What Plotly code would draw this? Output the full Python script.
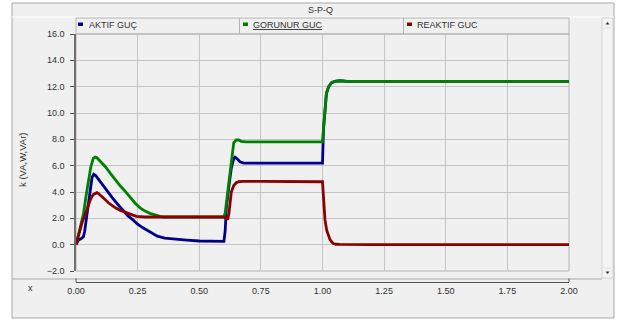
import plotly.graph_objects as go

# ---------------- data ----------------
title_text = "S-P-Q"
series_names = ["AKTIF GUÇ", "GORUNUR GUC", "REAKTIF GUC"]
series_colors = ["#00008b", "#008000", "#8b0000"]
y_title = "k (VA,W,VAr)"
x_title = "x"

p_t = [0, 0.01, 0.02, 0.03, 0.035, 0.04, 0.045, 0.05, 0.057, 0.065, 0.072, 0.08, 0.09, 0.10,
       0.11, 0.13, 0.15, 0.17, 0.19, 0.21, 0.23, 0.25, 0.27, 0.30, 0.33, 0.36, 0.40, 0.45,
       0.50, 0.55, 0.60, 0.605, 0.61, 0.62, 0.63, 0.64, 0.645, 0.655, 0.665, 0.68, 0.75,
       0.85, 1.00, 1.004, 1.01, 1.016, 1.025, 1.037, 1.05, 1.07, 1.10, 1.5, 2.0]
p_v = [0, 0.35, 0.45, 0.6, 1.0, 1.7, 2.5, 3.2, 4.4, 5.1, 5.35, 5.25, 5.0, 4.75,
       4.45, 4.0, 3.5, 3.05, 2.6, 2.2, 1.9, 1.55, 1.3, 0.95, 0.65, 0.5, 0.42, 0.35,
       0.28, 0.25, 0.25, 1.0, 2.8, 4.4, 5.8, 6.55, 6.65, 6.5, 6.3, 6.2, 6.2,
       6.2, 6.2, 8.8, 10.5, 11.5, 12.0, 12.3, 12.4, 12.45, 12.4, 12.4, 12.4]

s_t = [0, 0.01, 0.02, 0.03, 0.04, 0.05, 0.06, 0.07, 0.078, 0.085, 0.09, 0.10, 0.12, 0.14,
       0.16, 0.18, 0.20, 0.22, 0.24, 0.26, 0.28, 0.30, 0.32, 0.34, 0.36, 0.45, 0.55, 0.60,
       0.605, 0.61, 0.62, 0.63, 0.64, 0.65, 0.66, 0.67, 0.69, 0.80, 0.90, 1.00, 1.004,
       1.01, 1.016, 1.025, 1.037, 1.05, 1.07, 1.10, 1.30, 1.50, 1.75, 2.0]
s_v = [0, 0.7, 1.5, 2.3, 3.6, 4.9, 5.9, 6.55, 6.65, 6.6, 6.5, 6.3, 5.9, 5.4,
       4.9, 4.45, 4.05, 3.6, 3.15, 2.8, 2.55, 2.38, 2.25, 2.15, 2.1, 2.1, 2.1, 2.1,
       2.4, 3.2, 4.8, 6.6, 7.75, 7.95, 7.95, 7.85, 7.8, 7.8, 7.8, 7.8, 8.8,
       10.5, 11.5, 12.0, 12.3, 12.4, 12.45, 12.4, 12.4, 12.4, 12.4, 12.4]

q_t = [0, 0.008, 0.016, 0.025, 0.037, 0.05, 0.06, 0.07, 0.08, 0.085, 0.09, 0.10, 0.11,
       0.12, 0.13, 0.14, 0.16, 0.18, 0.20, 0.22, 0.245, 0.28, 0.35, 0.45, 0.55, 0.60,
       0.61, 0.615, 0.62, 0.625, 0.63, 0.64, 0.65, 0.66, 0.675, 0.75, 0.85, 1.00,
       1.003, 1.007, 1.01, 1.017, 1.024, 1.03, 1.037, 1.044, 1.055, 1.07, 1.20, 1.50, 2.0]
q_v = [0, 0.6, 1.14, 1.7, 2.3, 3.0, 3.5, 3.8, 3.93, 3.95, 3.9, 3.75, 3.55,
       3.4, 3.2, 3.05, 2.8, 2.6, 2.45, 2.3, 2.15, 2.1, 2.1, 2.1, 2.1, 2.1,
       2.0, 1.9, 2.3, 3.2, 4.0, 4.5, 4.7, 4.78, 4.8, 4.8, 4.78, 4.78,
       3.9, 2.8, 1.9, 1.1, 0.63, 0.4, 0.22, 0.08, 0.03, 0.02, 0.0, 0.0, 0.0]

x_ticks = [0.0, 0.25, 0.5, 0.75, 1.0, 1.25, 1.5, 1.75, 2.0]
y_ticks = [-2, 0, 2, 4, 6, 8, 10, 12, 14, 16]

# ---------------- layout helpers (screen pixel -> paper) ----------------
W, H = 619, 320
L, R, T, B = 76, 569, 34, 282      # paper area in pixels
PLOT_BOTTOM = 271                  # bottom of the plotting box


def px(x):
    return (x - L) / (R - L)


def py(y):
    return (B - y) / (B - T)


FONT = "Liberation Sans, Arial, sans-serif"
TXT = "#303030"

fig = go.Figure()
for t, v, name, col in [(p_t, p_v, series_names[0], series_colors[0]),
                        (s_t, s_v, series_names[1], series_colors[1]),
                        (q_t, q_v, series_names[2], series_colors[2])]:
    fig.add_trace(go.Scatter(x=t, y=v, mode="lines", name=name,
                             line=dict(color=col, width=2.8), hoverinfo="skip"))

shapes = []
# outer panel
shapes.append(dict(type="rect", xref="paper", yref="paper", layer="below",
                   x0=px(12), x1=px(614), y0=py(318), y1=py(3),
                   fillcolor="#f0f0f0", line=dict(color="#a8a8a8", width=1)))
# title band separator
shapes.append(dict(type="line", xref="paper", yref="paper", layer="below",
                   x0=px(12), x1=px(614), y0=py(17), y1=py(17),
                   line=dict(color="#ffffff", width=1)))
# legend band
shapes.append(dict(type="rect", xref="paper", yref="paper", layer="below",
                   x0=px(76), x1=px(569), y0=py(34), y1=py(18),
                   fillcolor="#f0f0f0", line=dict(color="#b4b4b4", width=1)))
for sx in (239.5, 403.5):
    shapes.append(dict(type="line", xref="paper", yref="paper", layer="below",
                       x0=px(sx), x1=px(sx), y0=py(34), y1=py(18),
                       line=dict(color="#b4b4b4", width=1)))
# legend colour marks
for (mx, col) in [(78, series_colors[0]), (243, series_colors[1]), (407, series_colors[2])]:
    shapes.append(dict(type="rect", xref="paper", yref="paper",
                       x0=px(mx), x1=px(mx + 5), y0=py(26), y1=py(22.5),
                       fillcolor=col, line=dict(width=0)))
# bottom separator
shapes.append(dict(type="line", xref="paper", yref="paper", layer="below",
                   x0=px(12), x1=px(602), y0=py(279), y1=py(279),
                   line=dict(color="#a8a8a8", width=1)))
# scrollbar
shapes.append(dict(type="rect", xref="paper", yref="paper", layer="below",
                   x0=px(602), x1=px(613), y0=py(278), y1=py(18),
                   fillcolor="#f4f4f4", line=dict(color="#d2d2d2", width=1)))
shapes.append(dict(type="line", xref="paper", yref="paper",
                   x0=px(602), x1=px(613), y0=py(28), y1=py(28),
                   line=dict(color="#e0e0e0", width=1)))
shapes.append(dict(type="line", xref="paper", yref="paper",
                   x0=px(602), x1=px(613), y0=py(268), y1=py(268),
                   line=dict(color="#e0e0e0", width=1)))
# arrows
shapes.append(dict(type="path", xref="paper", yref="paper",
                   path="M {} {} L {} {} L {} {} Z".format(px(605.5), py(24.5), px(609.5), py(24.5),
                                                          px(607.5), py(22)),
                   fillcolor="#303030", line=dict(width=0)))
shapes.append(dict(type="path", xref="paper", yref="paper",
                   path="M {} {} L {} {} L {} {} Z".format(px(605.5), py(271.5), px(609.5), py(271.5),
                                                          px(607.5), py(274)),
                   fillcolor="#303030", line=dict(width=0)))
# x axis end ticks
for ex in (L, R):
    shapes.append(dict(type="line", xref="paper", yref="paper",
                       x0=px(ex), x1=px(ex), y0=py(282), y1=py(278.5),
                       line=dict(color="#505050", width=1)))

annotations = [
    dict(text=title_text, x=px(320), y=py(10), xref="paper", yref="paper",
         showarrow=False, xanchor="center", yanchor="middle",
         font=dict(family=FONT, size=9, color=TXT)),
    dict(text=y_title, x=px(22), y=py(160), xref="paper", yref="paper",
         showarrow=False, textangle=-90, xanchor="center", yanchor="middle",
         font=dict(family=FONT, size=9.5, color=TXT)),
    dict(text=x_title, x=px(30), y=py(288), xref="paper", yref="paper",
         showarrow=False, xanchor="center", yanchor="middle",
         font=dict(family=FONT, size=9, color=TXT)),
    dict(text=series_names[0], x=px(87), y=py(25), xref="paper", yref="paper",
         showarrow=False, xanchor="left", yanchor="middle",
         font=dict(family=FONT, size=9, color=TXT)),
    dict(text="<u>" + series_names[1] + "</u>", x=px(251), y=py(25), xref="paper", yref="paper",
         showarrow=False, xanchor="left", yanchor="middle",
         font=dict(family=FONT, size=9, color=TXT)),
    dict(text=series_names[2], x=px(415), y=py(25), xref="paper", yref="paper",
         showarrow=False, xanchor="left", yanchor="middle",
         font=dict(family=FONT, size=9, color=TXT)),
]

ydom0 = (B - PLOT_BOTTOM) / (B - T)

fig.update_layout(
    width=W, height=H,
    margin=dict(l=L, r=W - R, t=T, b=H - B, pad=0),
    paper_bgcolor="#ffffff",
    plot_bgcolor="#ffffff",
    showlegend=False,
    shapes=shapes,
    annotations=annotations,
    xaxis=dict(range=[0, 2], tickvals=x_ticks, tickformat=".2f",
               anchor="free", position=0,
               showgrid=True, gridcolor="#c4c4c4", gridwidth=1,
               showline=True, linecolor="#505050", linewidth=1,
               ticks="", zeroline=False,
               tickfont=dict(family=FONT, size=9, color=TXT)),
    yaxis=dict(range=[-2, 16], tickvals=y_ticks, tickformat=".1f",
               domain=[ydom0, 1],
               showgrid=True, gridcolor="#c4c4c4", gridwidth=1,
               showline=True, linecolor="#707070", linewidth=1.5,
               ticks="outside", ticklen=4, tickcolor="#505050",
               ticklabelstandoff=4,
               zeroline=False,
               tickfont=dict(family=FONT, size=9, color=TXT)),
)

# plot frame (right, top, bottom borders)
fig.add_shape(type="rect", xref="x domain", yref="y domain", x0=0, x1=1, y0=0, y1=1,
              line=dict(color="#b4b4b4", width=1), layer="below")

fig.write_html("out.html", config={"displayModeBar": False},
               post_script="document.body.style.margin='0px';document.body.style.padding='0px';")
